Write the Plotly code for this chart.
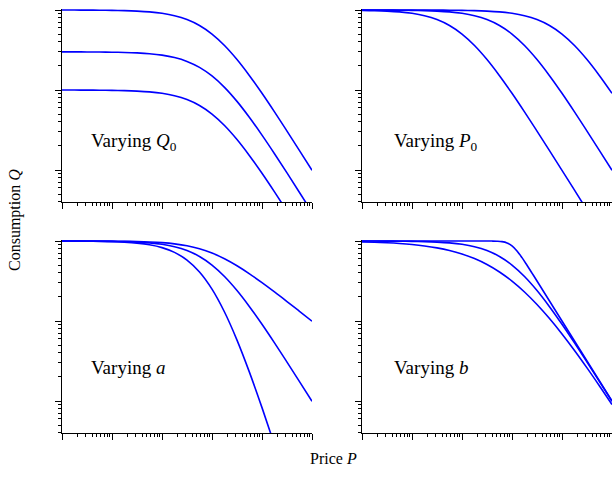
import plotly.graph_objects as go

# ---------------- data ----------------
price_grid = [1, 1.778, 3.162, 5.623, 10, 17.78, 31.62, 56.23, 100, 177.8, 316.2, 562.3,
              1000, 1778, 3162, 5623, 10000, 17783, 31623, 56234, 100000]

# Panel 1: varying Q0
q0_high = [999.0, 998.2, 996.8, 994.4, 990.1, 982.5, 969.3, 946.8, 909.1, 849.0, 759.7, 640.1,
           500.0, 359.9, 240.3, 151.0, 90.91, 53.24, 30.65, 17.47, 9.901]
q0_mid = [299.7, 299.5, 299.0, 298.3, 297.0, 294.8, 290.8, 284.0, 272.7, 254.7, 227.9, 192.0,
          150.0, 108.0, 72.09, 45.30, 27.27, 15.97, 9.195, 5.241, 2.970]
q0_low = [99.90, 99.82, 99.68, 99.44, 99.01, 98.25, 96.93, 94.68, 90.91, 84.90, 75.97, 64.01,
          50.00, 35.99, 24.03, 15.10, 9.091, 5.324, 3.065, 1.747, 0.9901]

# Panel 2: varying P0
p0_low = [990.1, 982.5, 969.3, 946.8, 909.1, 849.0, 759.7, 640.1, 500.0, 359.9, 240.3, 151.0,
          90.91, 53.24, 30.65, 17.47, 9.901, 5.592, 3.152, 1.775, 0.999]
p0_mid = [999.0, 998.2, 996.8, 994.4, 990.1, 982.5, 969.3, 946.8, 909.1, 849.0, 759.7, 640.1,
          500.0, 359.9, 240.3, 151.0, 90.91, 53.24, 30.65, 17.47, 9.901]
p0_high = [999.9, 999.8, 999.7, 999.4, 999.0, 998.2, 996.8, 994.4, 990.1, 982.5, 969.3, 946.8,
           909.1, 849.0, 759.7, 640.1, 500.0, 359.9, 240.3, 151.0, 90.91]

# Panel 3: varying a
a_low = [999.5, 999.1, 998.4, 997.2, 995.0, 991.2, 984.5, 973.0, 953.5, 921.4, 871.6, 800.1,
         707.1, 599.9, 490.2, 388.6, 301.5, 230.7, 175.1, 132.2, 99.50]
a_mid = [999.0, 998.2, 996.8, 994.4, 990.1, 982.5, 969.3, 946.8, 909.1, 849.0, 759.7, 640.1,
         500.0, 359.9, 240.3, 151.0, 90.91, 53.24, 30.65, 17.47, 9.901]
a_high = [998.0, 996.4, 993.6, 988.8, 980.3, 965.3, 939.5, 896.4, 826.4, 720.8, 577.1, 409.7,
          250.0, 129.5, 57.74, 22.80, 8.264, 2.835, 0.9394, 0.3052, 0.09803]

# Panel 4: varying b
b_low = [974.1, 963.8, 949.4, 929.8, 903.1, 867.4, 820.7, 761.3, 688.3, 602.9, 508.1, 409.8,
         315.0, 230.4, 160.7, 107.2, 68.83, 42.81, 25.95, 15.42, 9.031]
b_mid = [999.0, 998.2, 996.8, 994.4, 990.1, 982.5, 969.3, 946.8, 909.1, 849.0, 759.7, 640.1,
         500.0, 359.9, 240.3, 151.0, 90.91, 53.24, 30.65, 17.47, 9.901]
price_sharp = [1, 3.162, 10, 31.62, 100, 177.8, 316.2, 398.1, 501.2, 631.0, 794.3, 1000,
               1259, 1585, 1995, 2512, 3162, 5623, 10000, 17783, 31623, 56234, 100000]
b_high = [1000.0, 1000.0, 1000.0, 1000.0, 1000.0, 1000.0, 999.4, 998.0, 993.8, 981.1, 946.5,
          870.6, 751.9, 619.0, 498.1, 397.3, 316.0, 177.8, 100.0, 56.23, 31.62, 17.78, 10.00]

panel_labels = ["Varying <i>Q</i><sub>0</sub>", "Varying <i>P</i><sub>0</sub>",
                "Varying <i>a</i>", "Varying <i>b</i>"]
x_title = "Price <i>P</i>"
y_title = "Consumption <i>Q</i>"

# ---------------- figure ----------------
W, H = 612, 488
BLUE = "#0000ff"
FONT = "Liberation Serif, Times New Roman, serif"

panels = [
    ("x", "y", [(price_grid, q0_high), (price_grid, q0_mid), (price_grid, q0_low)]),
    ("x2", "y2", [(price_grid, p0_low), (price_grid, p0_mid), (price_grid, p0_high)]),
    ("x3", "y3", [(price_grid, a_low), (price_grid, a_mid), (price_grid, a_high)]),
    ("x4", "y4", [(price_grid, b_low), (price_grid, b_mid), (price_sharp, b_high)]),
]

fig = go.Figure()
for xa, ya, series in panels:
    for px, qy in series:
        fig.add_trace(go.Scatter(x=px, y=qy, xaxis=xa, yaxis=ya, mode="lines",
                                 line=dict(color=BLUE, width=1.6, shape="spline"),
                                 showlegend=False, hoverinfo="skip"))

def xdom(l, r):
    return [max(0.0, l / W), min(1.0, r / W)]

def ydom(top, bottom):
    return [max(0.0, 1 - bottom / H), min(1.0, 1 - top / H)]

def px_x(v):
    return v / W

def px_y(v):
    return 1 - v / H

common_x = dict(type="log", range=[0, 5], dtick=1, showticklabels=False, showgrid=False,
                zeroline=False, showline=True, linecolor="black", linewidth=1,
                ticks="outside", ticklen=6, tickcolor="black", tickwidth=1,
                minor=dict(ticks="outside", ticklen=3, tickcolor="black", dtick="D1",
                           showgrid=False))
common_y = dict(type="log", range=[0.6, 3.015], dtick=1, showticklabels=False, showgrid=False,
                zeroline=False, showline=True, linecolor="black", linewidth=1,
                ticks="outside", ticklen=6, tickcolor="black", tickwidth=1,
                minor=dict(ticks="outside", ticklen=3, tickcolor="black", dtick="D1",
                           showgrid=False))

# pixel positions of the panels (as in the reference)
top_t, top_b = 8.8, 202
bot_t, bot_b = 239.8, 433
left_l, left_r = 62, 312
right_l, right_r = 362, 612

fig.update_layout(
    width=W, height=H, margin=dict(l=0, r=0, t=0, b=0),
    paper_bgcolor="white", plot_bgcolor="white",
    xaxis=dict(common_x, domain=xdom(left_l, left_r), anchor="y"),
    yaxis=dict(common_y, domain=ydom(top_t, top_b), anchor="x"),
    xaxis2=dict(common_x, domain=xdom(right_l, right_r), anchor="y2"),
    yaxis2=dict(common_y, domain=ydom(top_t, top_b), anchor="x2"),
    xaxis3=dict(common_x, domain=xdom(left_l, left_r), anchor="y3"),
    yaxis3=dict(common_y, domain=ydom(bot_t, bot_b), anchor="x3"),
    xaxis4=dict(common_x, domain=xdom(right_l, right_r), anchor="y4"),
    yaxis4=dict(common_y, domain=ydom(bot_t, bot_b), anchor="x4"),
    font=dict(family=FONT, color="black"),
)

label_pos = [(89, 142), (392, 142), (89, 367), (392, 367)]
for txt, (lx, ly) in zip(panel_labels, label_pos):
    fig.add_annotation(text=txt, xref="paper", yref="paper", x=px_x(lx), y=px_y(ly),
                       xanchor="left", yanchor="middle", showarrow=False,
                       font=dict(family=FONT, size=19, color="black"))

fig.add_annotation(text=x_title, xref="paper", yref="paper", x=px_x(333), y=px_y(458),
                   xanchor="center", yanchor="middle", showarrow=False,
                   font=dict(family=FONT, size=16, color="black"))
fig.add_annotation(text=y_title, xref="paper", yref="paper", x=px_x(15), y=px_y(220),
                   xanchor="center", yanchor="middle", showarrow=False, textangle=-90,
                   font=dict(family=FONT, size=16, color="black"))

# remove the default page margin so the 612x488 figure fills the window exactly
fig.write_html("out.html",
               config={"displayModeBar": False},
               post_script="document.body.style.margin='0';"
                           "document.body.style.overflow='hidden';")
